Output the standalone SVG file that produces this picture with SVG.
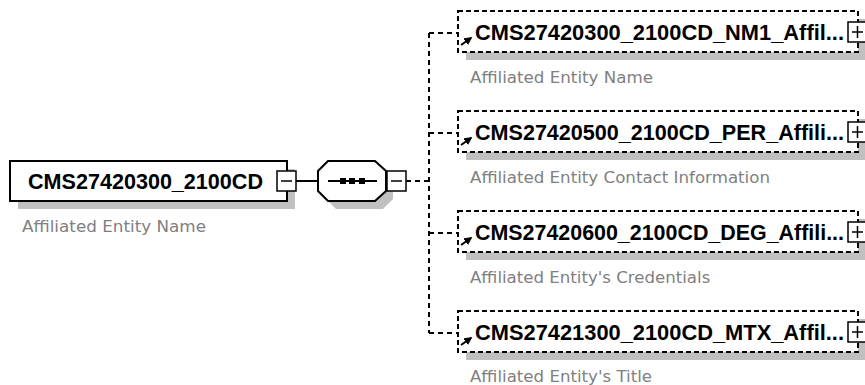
<svg xmlns="http://www.w3.org/2000/svg" width="865" height="385" viewBox="0 0 865 385">
<defs>
<style>
.bg{fill:#ffffff}
.shadow{fill:#c0c0c0;stroke:none}
.box{fill:#ffffff;stroke:#000;stroke-width:2}
.dbox{fill:#ffffff;stroke:#000;stroke-width:2;stroke-dasharray:5,3}
.btn{fill:#ffffff;stroke:#000;stroke-width:1.5}
.sign{stroke:#000;stroke-width:1.5;fill:none}
.name{font-family:"Liberation Sans",Arial,sans-serif;font-weight:bold;font-size:21.5px;fill:#000}
.desc{font-family:"DejaVu Sans",Verdana,sans-serif;font-size:16.6px;fill:#808080}
.conn{stroke:#000;stroke-width:2;fill:none}
.dconn{stroke:#000;stroke-width:2;fill:none;stroke-dasharray:5,4}
</style>
<marker id="ah" viewBox="0 0 10 10" refX="8" refY="5" markerWidth="4" markerHeight="4" orient="auto">
<path d="M0,0 L10,5 L0,10 z" fill="#000"/>
</marker>
</defs>
<rect class="bg" x="0" y="0" width="865" height="385"/>

<g id="connectors">
<line class="conn" x1="296" y1="181" x2="318" y2="181"/>
<line class="dconn" x1="406" y1="181" x2="429" y2="181"/>
<path class="dconn" d="M429,33 L429,333"/>
<line class="dconn" x1="429" y1="33" x2="457" y2="33"/>
<line class="dconn" x1="429" y1="133" x2="457" y2="133"/>
<line class="dconn" x1="429" y1="233" x2="457" y2="233"/>
<line class="dconn" x1="429" y1="333" x2="457" y2="333"/>
</g>

<g id="root">
<rect class="shadow" x="18" y="169" width="277" height="40"/>
<rect class="box" x="10" y="161" width="277" height="40"/>
<text class="name" x="28" y="189" textLength="235" lengthAdjust="spacingAndGlyphs">CMS27420300_2100CD</text>
<rect class="btn" x="277" y="171" width="19" height="20"/>
<line class="sign" x1="281" y1="181" x2="292" y2="181"/>
<text class="desc" x="22" y="232" textLength="184" lengthAdjust="spacingAndGlyphs">Affiliated Entity Name</text>
</g>

<g id="sequence">
<path class="shadow" d="M336,169 L383,169 L393,179 L393,199 L383,209 L336,209 L326,199 L326,179 Z"/>
<path class="box" d="M328,161 L375,161 L386,171 L386,191 L375,201 L328,201 L318,191 L318,171 Z"/>
<line class="conn" x1="328" y1="181" x2="377" y2="181"/>
<rect x="340" y="178" width="6" height="6" fill="#000"/>
<rect x="349" y="178" width="6" height="6" fill="#000"/>
<rect x="359" y="178" width="6" height="6" fill="#000"/>
<rect class="btn" x="387" y="171" width="19" height="20"/>
<line class="sign" x1="391" y1="181" x2="402" y2="181"/>
</g>

<g id="child1">
<rect class="shadow" x="466" y="19" width="400" height="41"/>
<rect class="dbox" x="458" y="11" width="400" height="41"/>
<text class="name" x="475" y="40" textLength="369" lengthAdjust="spacingAndGlyphs">CMS27420300_2100CD_NM1_Affil...</text>
<rect class="btn" x="848" y="22" width="19" height="20"/>
<path class="sign" d="M852,32 L863,32 M857.5,26 L857.5,38"/>
<line class="conn" x1="461" y1="45" x2="471" y2="38" marker-end="url(#ah)"/>
<text class="desc" x="470" y="83" textLength="183" lengthAdjust="spacingAndGlyphs">Affiliated Entity Name</text>
</g>

<g id="child2">
<rect class="shadow" x="466" y="119" width="400" height="41"/>
<rect class="dbox" x="458" y="111" width="400" height="41"/>
<text class="name" x="475" y="140" textLength="369" lengthAdjust="spacingAndGlyphs">CMS27420500_2100CD_PER_Affili...</text>
<rect class="btn" x="848" y="122" width="19" height="20"/>
<path class="sign" d="M852,132 L863,132 M857.5,126 L857.5,138"/>
<line class="conn" x1="461" y1="145" x2="471" y2="138" marker-end="url(#ah)"/>
<text class="desc" x="470" y="183" textLength="300" lengthAdjust="spacingAndGlyphs">Affiliated Entity Contact Information</text>
</g>

<g id="child3">
<rect class="shadow" x="466" y="219" width="400" height="41"/>
<rect class="dbox" x="458" y="211" width="400" height="41"/>
<text class="name" x="475" y="240" textLength="369" lengthAdjust="spacingAndGlyphs">CMS27420600_2100CD_DEG_Affili...</text>
<rect class="btn" x="848" y="222" width="19" height="20"/>
<path class="sign" d="M852,232 L863,232 M857.5,226 L857.5,238"/>
<line class="conn" x1="461" y1="245" x2="471" y2="238" marker-end="url(#ah)"/>
<text class="desc" x="470" y="283">Affiliated Entity's Credentials</text>
</g>

<g id="child4">
<rect class="shadow" x="466" y="319" width="400" height="41"/>
<rect class="dbox" x="458" y="311" width="400" height="41"/>
<text class="name" x="475" y="340" textLength="369" lengthAdjust="spacingAndGlyphs">CMS27421300_2100CD_MTX_Affil...</text>
<rect class="btn" x="848" y="322" width="19" height="20"/>
<path class="sign" d="M852,332 L863,332 M857.5,326 L857.5,338"/>
<line class="conn" x1="461" y1="345" x2="471" y2="338" marker-end="url(#ah)"/>
<text class="desc" x="470" y="382" textLength="182" lengthAdjust="spacingAndGlyphs">Affiliated Entity's Title</text>
</g>
</svg>
